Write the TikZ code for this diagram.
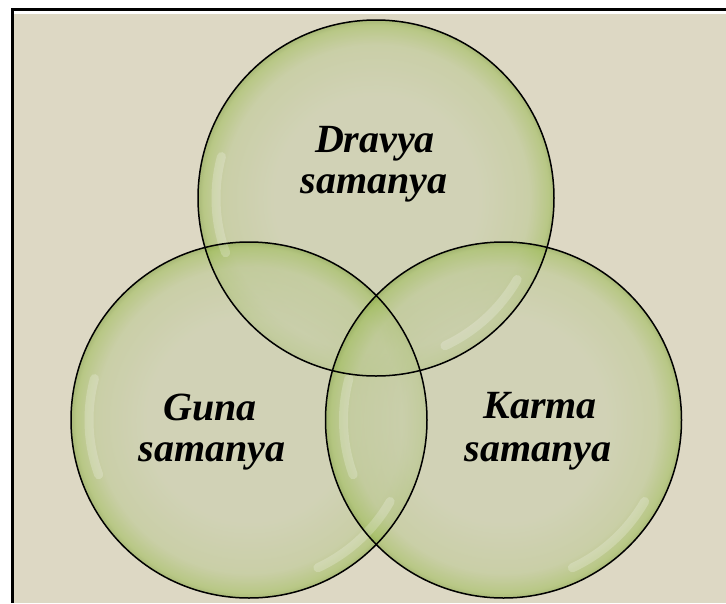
\documentclass[tikz,border=0pt]{standalone}
\usepackage{fontspec}
\setmainfont{Liberation Serif}
\definecolor{bgbeige}{HTML}{DDD8C4}
\definecolor{glassin}{HTML}{CACFAE}
\definecolor{glassmid}{HTML}{BDC994}
\definecolor{glassrim}{HTML}{A0BD5C}
\definecolor{glassedge}{HTML}{86A444}
\pgfdeclareradialshading{glass}{\pgfpoint{0bp}{0bp}}{%
  color(0bp)=(glassin); color(14bp)=(glassin); color(21.5bp)=(glassmid);
  color(24.3bp)=(glassrim); color(25bp)=(glassedge); color(50bp)=(glassedge)}
\tikzset{
  ring/.style={shading=glass, fill opacity=0.6},
  ringline/.style={draw=black, line width=1.5pt},
  gloss/.style={draw=white, line width=9pt, opacity=0.22, line cap=round},
  lbl/.style={font=\fontsize{40}{40}\selectfont\bfseries\itshape, inner sep=0pt, anchor=base}
}
\begin{document}
\begin{tikzpicture}[x=1pt,y=-1pt]
\useasboundingbox (0,0) rectangle (726,603);
\fill[white] (0,0) rectangle (726,603);
\fill[bgbeige] (13,14) rectangle (726,603);
\fill[black] (11,8) rectangle (726,10.8);
\fill[black] (11,8) rectangle (13.6,603);
% circles
\coordinate (ct) at (376,198);
\coordinate (cl) at (249,420);
\coordinate (cr) at (503.5,420);
\shade[ring] (ct) circle[radius=178];
\shade[ring] (cl) circle[radius=178];
\shade[ring] (cr) circle[radius=178];
% gloss highlights (y axis points down: positive angles are below)
\draw[gloss] (ct) ++(195:160) arc[start angle=195, end angle=160, radius=160];
\draw[gloss] (ct) ++(30:163) arc[start angle=30, end angle=65, radius=163];
\draw[gloss] (cl) ++(195:160) arc[start angle=195, end angle=160, radius=160];
\draw[gloss] (cl) ++(30:163) arc[start angle=30, end angle=65, radius=163];
\draw[gloss] (cr) ++(195:160) arc[start angle=195, end angle=160, radius=160];
\draw[gloss] (cr) ++(30:163) arc[start angle=30, end angle=65, radius=163];
\draw[ringline] (ct) circle[radius=178];
\draw[ringline] (cl) circle[radius=178];
\draw[ringline] (cr) circle[radius=178];
% labels
\node[lbl] (dravyaA) at (375,152) {Dravya};
\node[lbl] (dravyaB) at (374,193) {samanya};
\node[lbl] (gunaA) at (210,420) {Guna};
\node[lbl] (gunaB) at (212,461) {samanya};
\node[lbl] (karmaA) at (540,418) {Karma};
\node[lbl] (karmaB) at (538,461) {samanya};
\end{tikzpicture}
\end{document}
